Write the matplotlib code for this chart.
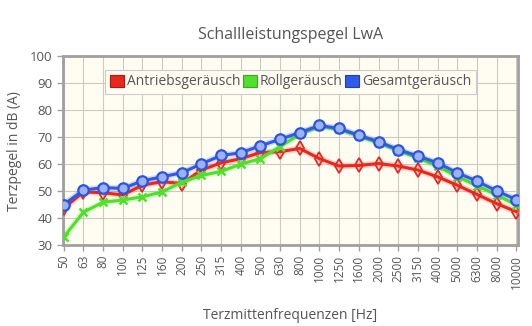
import numpy as np
import matplotlib
matplotlib.use("Agg")
import matplotlib.pyplot as plt
import matplotlib.patheffects as pe
from matplotlib.patches import Patch

# third-octave band centre frequencies
freqs = ["50", "63", "80", "100", "125", "160", "200", "250", "315", "400",
         "500", "630", "800", "1000", "1250", "1600", "2000", "2500", "3150",
         "4000", "5000", "6300", "8000", "10000"]

# levels in dB(A)
antrieb = [43.7, 49.7, 49.4, 48.6, 52.2, 53.5, 52.8, 57.8, 60.5, 62.0,
           64.3, 64.6, 65.8, 62.0, 59.3, 59.5, 60.2, 59.3, 57.8, 55.3,
           52.2, 48.8, 45.4, 42.4]
roll = [33.0, 42.2, 45.9, 46.7, 47.9, 49.7, 53.3, 55.8, 57.3, 60.0,
        62.0, 66.5, 71.0, 74.0, 72.9, 70.4, 67.9, 65.0, 62.3, 59.2,
        55.4, 52.0, 48.6, 44.9]
gesamt = [45.0, 50.4, 51.3, 51.0, 53.8, 55.3, 56.8, 60.1, 63.2, 64.2,
          66.8, 69.2, 71.7, 74.3, 73.2, 70.7, 68.3, 65.4, 63.0, 60.5,
          56.8, 53.7, 50.1, 46.9]

labels = ["Antriebsgeräusch", "Rollgeräusch", "Gesamtgeräusch"]
colors = ["#e8271e", "#4fe02c", "#2f5be8"]
edge_colors = ["#b01810", "#3aa820", "#1e3fb0"]

plt.rcParams['font.family'] = ['Open Sans', 'DejaVu Sans']
txt = "#555555"

fig = plt.figure(figsize=(5.32, 3.26), dpi=100)
ax = fig.add_axes([0.118, 0.248, 0.856, 0.580])
ax.set_facecolor("#fffcf2")

x = np.arange(len(freqs))
styles = [dict(marker="d", ms=7, mfc="none", mew=1.3),
          dict(marker="x", ms=5.5, mew=1.8),
          dict(marker="o", ms=7.5, mfc="#9db2f2", mew=1.6, mec="#2a55e0")]

for i, (ys, st) in enumerate(zip([antrieb, roll, gesamt], styles)):
    # line with a soft glow underneath
    ax.plot(x, ys, color=colors[i], lw=2.2, zorder=3 + i,
            path_effects=[pe.Stroke(linewidth=4.5, foreground=colors[i], alpha=0.2),
                          pe.Normal()])
    ax.plot(x, ys, color=colors[i], lw=0, zorder=3 + i, **st)

ax.set_xlim(-0.05, 23.1)
ax.set_ylim(30, 100)
ax.set_yticks(range(30, 101, 10))
ax.set_xticks(x)
ax.set_xticklabels(freqs, rotation=90)
ax.grid(True, color="#cfcac0", lw=0.8, zorder=0)
ax.set_axisbelow(True)

for s in ax.spines.values():
    s.set_color("#a0a0a0")
    s.set_linewidth(2)
ax.tick_params(axis="both", colors="#a0a0a0", labelcolor=txt, length=4, width=1)
ax.tick_params(axis="y", labelsize=9.5)
ax.tick_params(axis="x", labelsize=8.5, pad=3)

ax.set_title("Schallleistungspegel LwA", color=txt, fontsize=11.5, pad=12)
ax.set_xlabel("Terzmittenfrequenzen [Hz]", color=txt, fontsize=10, labelpad=14)
ax.set_ylabel("Terzpegel in dB (A)", color=txt, fontsize=10, labelpad=6)

handles = [Patch(facecolor=c, edgecolor=e, lw=0.8) for c, e in zip(colors, edge_colors)]
leg = ax.legend(handles, labels, loc="upper center", bbox_to_anchor=(0.5, 0.965),
                ncol=3, fontsize=10, handlelength=1.0, handleheight=1.0,
                handletextpad=0.2, columnspacing=0.2, borderpad=0.35,
                fancybox=False, framealpha=1, facecolor="#fffcf2",
                edgecolor="#cccccc", labelcolor=txt)
leg.get_frame().set_linewidth(0.8)

fig.savefig("out.png", dpi=100, facecolor="white")
